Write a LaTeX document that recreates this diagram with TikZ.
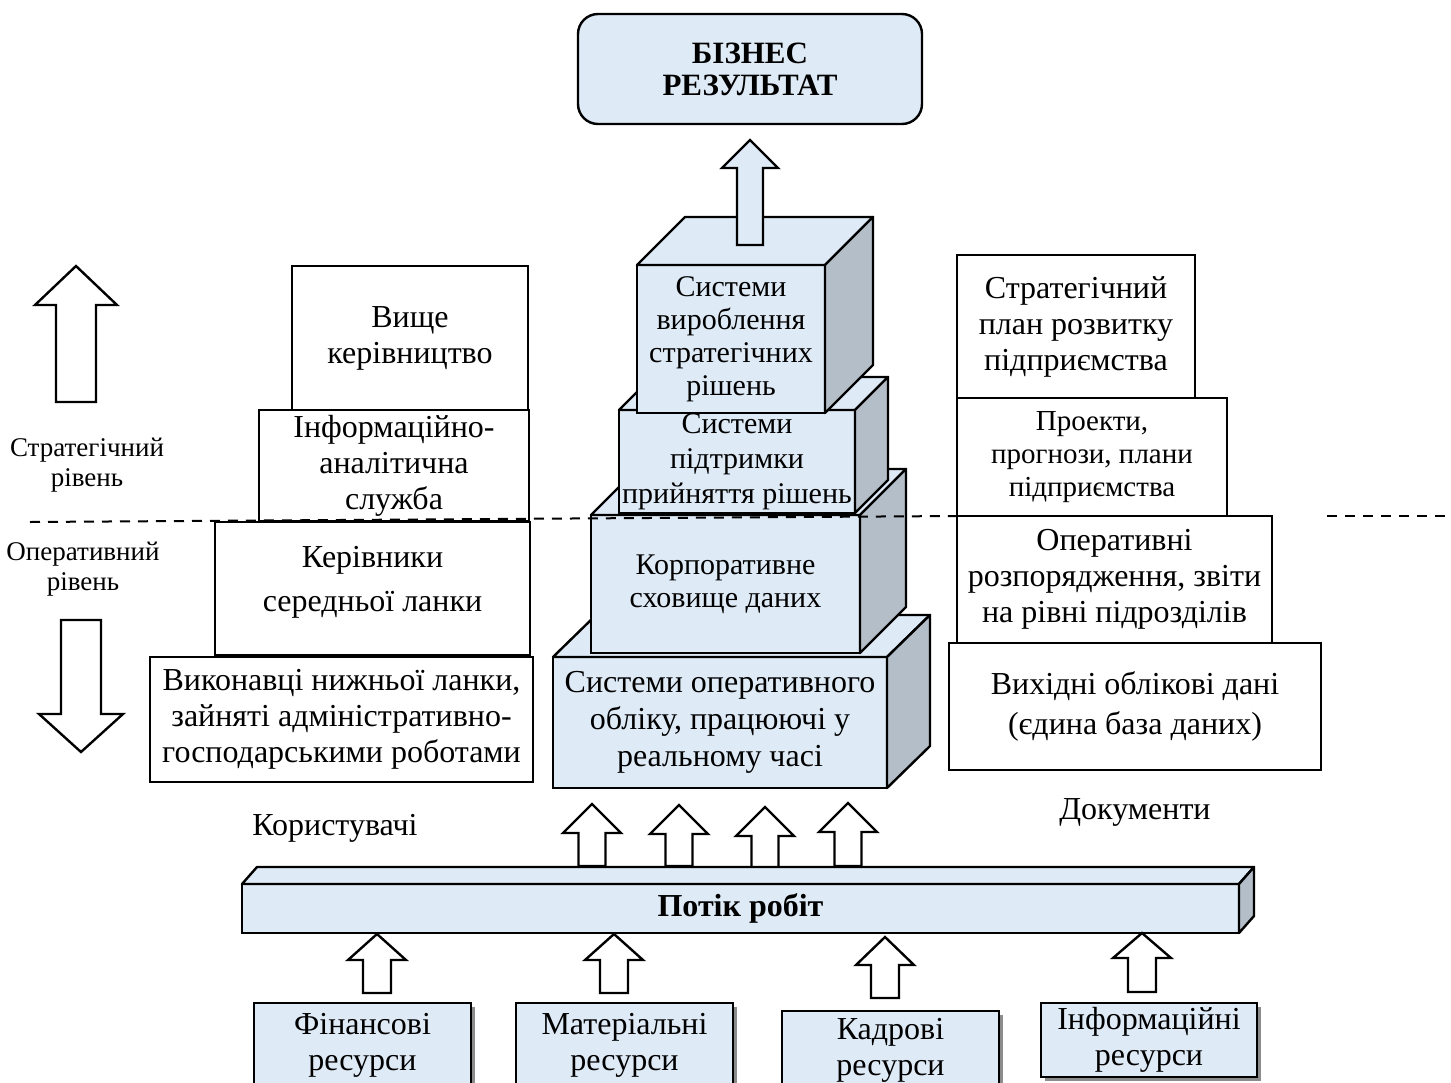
\documentclass[tikz,border=0pt]{standalone}
\usepackage{fontspec}
\setmainfont{Liberation Serif}
\usepackage{xcolor}
\usetikzlibrary{calc}
\usetikzlibrary{shadows}
\definecolor{boxblue}{RGB}{222,234,246}
\definecolor{sidegray}{RGB}{180,190,201}
\newcommand{\fatarrow}[7][white]{%
  \draw[block arrow,fill=#1] ({#2-#7},#5) -- ({#2-#7},#4) -- ({#2-#6},#4) -- (#2,#3)
    -- ({#2+#6},#4) -- ({#2+#7},#4) -- ({#2+#7},#5) -- cycle;}
\newcommand{\cubefaces}[3]{%
  \draw[top face] (#1.north west) -- ++(#2,-#3) -- ($(#1.north east)+(#2,-#3)$) -- (#1.north east) -- cycle;
  \draw[side face] (#1.north east) -- ++(#2,-#3) -- ($(#1.south east)+(#2,-#3)$) -- (#1.south east) -- cycle;}
\tikzset{%
    spans/.style n args={4}{minimum width={(#3-#1)*0.5pt},minimum height={(#4-#2)*0.5pt},at={({(#1+#3)/2},{(#2+#4)/2})}},
    plain box/.style={inner sep=0pt,outer sep=0pt,shape=rectangle,draw,line width=1.2pt,fill=white,align=center,font=\fontsize{16}{18}\selectfont},
    blue box/.style={plain box,fill=boxblue},
    cube front/.style={blue box,font=\fontsize{15}{16.5}\selectfont},
    res box/.style={blue box,drop shadow={shadow xshift=2pt,shadow yshift=-2pt,fill=black!45,opacity=1}},
    top face/.style={draw,line width=1.2pt,line join=round,fill=boxblue},
    side face/.style={draw,line width=1.2pt,line join=round,fill=sidegray},
    block arrow/.style={draw,line width=1.2pt,line join=miter},
    level text/.style={align=center,inner sep=0pt,font=\fontsize{13.5}{15}\selectfont},
    side text/.style={inner sep=0pt,font=\fontsize{16}{18}\selectfont},
    level line/.style={line width=1pt,dash pattern=on 5pt off 4pt},
}
\begin{document}
\begin{tikzpicture}[x=0.5pt,y=-0.5pt]
        \useasboundingbox (0,0) rectangle (1451,1082);
        \clip (0,0) rectangle (1451,1082);

        \fatarrow{76}{266}{305}{402}{41}{20}
        \fatarrow{81}{752}{714}{620}{42}{20}
        \node[level text] (strat) at (87,465) {Стратегічний\\рівень};
        \node[level text] (oper) at (83,569) {Оперативний\\рівень};

        \node[plain box,spans={292}{266}{528}{410}] (top) {Вище\\керівництво};
        \node[plain box,spans={259}{410}{529}{521}] (analyt) {Інформаційно-\\аналітична\\служба};
        \node[plain box,spans={215}{522}{530}{655}] (middle) {Керівники\\[4pt]середньої ланки\\[-8pt]\mbox{}};
        \node[plain box,spans={150}{657}{533}{782}] (lower) {Виконавці нижньої ланки,\\зайняті адміністративно-\\господарськими роботами};

        \node[plain box,spans={957}{255}{1195}{398}] (plan) {Стратегічний\\план розвитку\\підприємства};
        \node[plain box,spans={957}{398}{1227}{516},font=\fontsize{14.5}{16.5}\selectfont] (proj) {Проекти,\\прогнози, плани\\підприємства};
        \node[plain box,spans={957}{516}{1272}{643}] (orders) {Оперативні\\розпорядження, звіти\\на рівні підрозділів};
        \node[plain box,spans={949}{643}{1321}{770}] (source) {Вихідні облікові дані\\[2pt](єдина база даних)};

        \node[cube front,spans={553}{657}{887}{788},font=\fontsize{16}{18.5}\selectfont] (oltp) {Системи оперативного\\обліку, працюючі у\\реальному часі};
        \cubefaces{oltp}{43}{42}
        \node[cube front,spans={591}{515}{860}{653}] (dwh) {Корпоративне\\сховище даних};
        \cubefaces{dwh}{46}{46}
        \node[cube front,spans={619}{410}{855}{513},font=\fontsize{15}{17.5}\selectfont] (dss) {Системи\\підтримки\\прийняття рішень};
        \cubefaces{dss}{33}{33}
        \node[cube front,spans={637}{265}{825}{413}] (strsys) {Системи\\вироблення\\стратегічних\\рішень};
        \cubefaces{strsys}{48}{48}

        \fatarrow[boxblue]{750}{140}{168}{245}{28}{13}
        \node[blue box,rounded corners=10pt,spans={578}{14}{922}{124},font=\bfseries\fontsize{15.5}{16}\selectfont] (result) {БІЗНЕС\\РЕЗУЛЬТАТ};

        \fatarrow{592}{804}{833}{866}{29}{13.5}
        \fatarrow{679}{805}{834}{866}{29}{13.5}
        \fatarrow{765}{807}{836}{869}{29}{13.5}
        \fatarrow{848}{803}{832}{866}{29}{13.5}
        \node[blue box,spans={242}{884}{1239}{933},font=\bfseries\fontsize{16}{18}\selectfont] (flow) {Потік робіт};
        \cubefaces{flow}{15}{17}

        \fatarrow{377}{934}{960}{993}{29}{14}
        \fatarrow{614}{934}{960}{993}{29}{14}
        \fatarrow{885}{937}{965}{998}{29}{14}
        \fatarrow{1142}{933}{958}{992}{29}{14}
        \node[res box,spans={254}{1003}{471}{1088}] (fin) {Фінансові\\ресурси};
        \node[res box,spans={516}{1003}{733}{1088}] (mat) {Матеріальні\\ресурси};
        \node[res box,spans={782}{1011}{999}{1090}] (staff) {Кадрові\\ресурси};
        \node[res box,spans={1041}{1003}{1257}{1077}] (info) {Інформаційні\\ресурси};

        \node[side text] (users) at (335,828) {Користувачі};
        \node[side text] (docs) at (1135,812) {Документи};

        \draw[level line] (30,522) -- (957,516);
        \draw[level line] (1327,516) -- (1451,516);
      \end{tikzpicture}
\end{document}
